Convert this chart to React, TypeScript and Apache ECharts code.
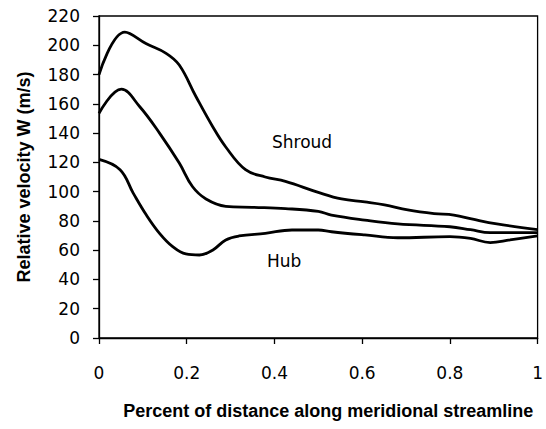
import React, { useEffect, useRef } from "react";
import * as echarts from "echarts";

const shroudX = [0, 0.059, 0.108, 0.153, 0.183, 0.221, 0.259, 0.289, 0.334, 0.379, 0.425, 0.5, 0.553, 0.606, 0.651, 0.704, 0.764, 0.809, 0.855, 0.907, 1.0];
const shroudY = [180, 209, 201, 194.5, 186.5, 165, 144.5, 130.5, 115, 110, 107, 99.5, 95, 93, 91, 87.5, 85, 84, 81, 78, 74];

const midX = [0, 0.051, 0.093, 0.138, 0.183, 0.213, 0.244, 0.289, 0.349, 0.425, 0.5, 0.53, 0.606, 0.681, 0.8, 0.847, 0.892, 1.0];
const midY = [153.5, 170, 158, 140, 119.5, 103.5, 95, 90, 89.3, 88.4, 86.5, 84, 80.6, 78, 76, 74, 72, 72];

const hubX = [0, 0.048, 0.078, 0.108, 0.138, 0.168, 0.198, 0.229, 0.259, 0.289, 0.319, 0.379, 0.44, 0.5, 0.53, 0.606, 0.681, 0.8, 0.847, 0.892, 0.937, 1.0];
const hubY = [122, 115, 99, 84, 71.5, 62.4, 57.4, 56.7, 60, 67, 69.7, 71.5, 73.8, 73.8, 72.6, 70.4, 68.5, 69.2, 68, 65.2, 67, 69.7];

const seriesNames = ["Shroud", "Middle", "Hub"];
const xTitle = "Percent of distance along meridional streamline";
const yTitle = "Relative velocity W (m/s)";

const pairs = (xs: number[], ys: number[]) => xs.map((x, i) => [x, ys[i]]);

export default function App() {
  const ref = useRef<HTMLDivElement>(null);
  useEffect(() => {
    if (!ref.current) return;
    const chart = echarts.init(ref.current, null, { renderer: "svg" });
    const font = "DejaVu Sans";
    const lineSeries = (name: string, data: number[][]) => ({
      name,
      type: "line",
      data,
      smooth: 0.4,
      showSymbol: false,
      lineStyle: { color: "#000", width: 2.8 },
      z: 3,
    });
    chart.setOption({
      animation: false,
      backgroundColor: "#fff",
      grid: { left: 99, right: 5, top: 16, bottom: 91, show: true, borderColor: "#000", borderWidth: 1.3 },
      xAxis: {
        type: "value",
        min: 0,
        max: 1,
        interval: 0.2,
        axisLine: { show: true, lineStyle: { color: "#000", width: 1.3 } },
        axisTick: { show: true, length: 6, lineStyle: { color: "#000", width: 1.3 } },
        splitLine: { show: false },
        axisLabel: { color: "#000", fontFamily: font, fontSize: 17, margin: 26 },
        name: xTitle,
        nameLocation: "middle",
        nameGap: 64,
        nameTextStyle: { color: "#000", fontFamily: "Liberation Sans", fontWeight: "bold", fontSize: 18, padding: [0, 0, 0, 20] },
      },
      yAxis: {
        type: "value",
        min: 0,
        max: 220,
        interval: 20,
        axisLine: { show: true, lineStyle: { color: "#000", width: 1.3 } },
        axisTick: { show: true, length: 6, lineStyle: { color: "#000", width: 1.3 } },
        splitLine: { show: false },
        axisLabel: { color: "#000", fontFamily: font, fontSize: 17, margin: 19 },
        name: yTitle,
        nameLocation: "middle",
        nameGap: 66,
        nameTextStyle: { color: "#000", fontFamily: "Liberation Sans", fontWeight: "bold", fontSize: 18 },
      },
      graphic: [
        { type: "text", left: 272, top: 133, style: { text: "Shroud", font: `17px '${font}'`, fill: "#000" } },
        { type: "text", left: 267, top: 252, style: { text: "Hub", font: `17px '${font}'`, fill: "#000" } },
      ],
      series: [
        lineSeries(seriesNames[0], pairs(shroudX, shroudY)),
        lineSeries(seriesNames[1], pairs(midX, midY)),
        lineSeries(seriesNames[2], pairs(hubX, hubY)),
      ],
    });
    return () => chart.dispose();
  }, []);
  return <div ref={ref} style={{ width: 546, height: 429, position: "absolute", left: 0, top: 0 }} />;
}
